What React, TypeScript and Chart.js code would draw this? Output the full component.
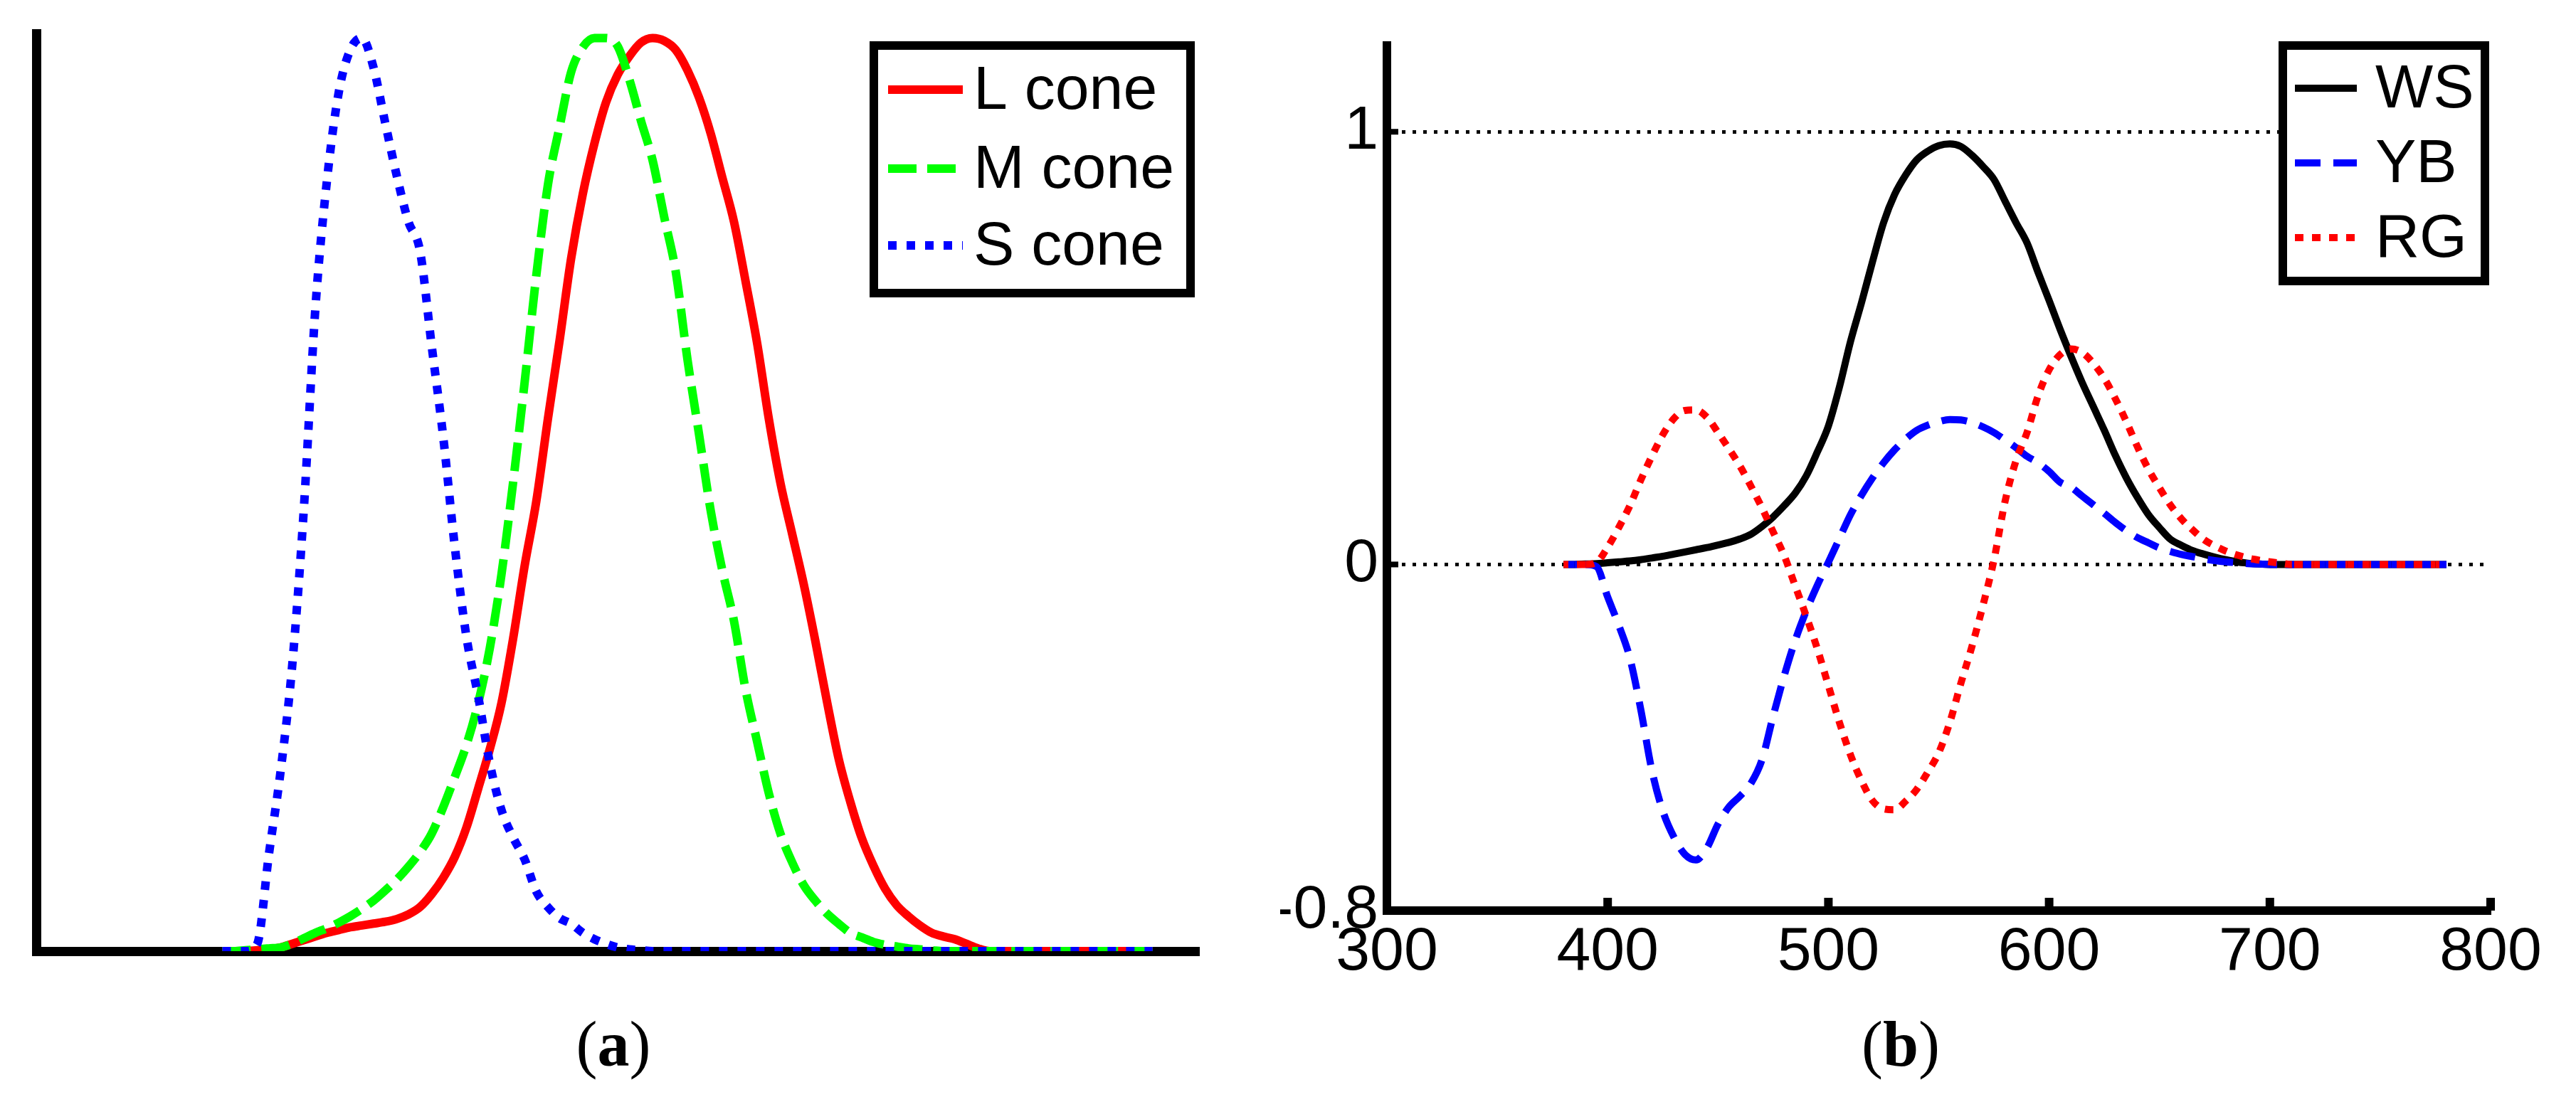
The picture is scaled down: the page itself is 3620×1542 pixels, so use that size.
import { useEffect, useRef } from "react";
import { Chart, registerables } from "chart.js";

Chart.register(...registerables);

// wavelength samples (nm) shared by both panels
const wavelengths = [
  380, 385, 390, 395, 400, 405, 410, 415, 420, 425, 430, 435, 440, 445, 450, 455, 460,
  465, 470, 475, 480, 485, 490, 495, 500, 505, 510, 515, 520, 525, 530, 535, 540, 545,
  550, 555, 560, 565, 570, 575, 580, 585, 590, 595, 600, 605, 610, 615, 620, 625, 630,
  635, 640, 645, 650, 655, 660, 665, 670, 675, 680, 685, 690, 695, 700, 705, 710, 715,
  720, 725, 730, 735, 740, 745, 750, 755, 760, 765, 770, 775, 780,
];

// (a) cone sensitivities
const coneLabels = ["L cone", "M cone", "S cone"];
const lCone = [
  0, 0, 0, 0.001, 0.002, 0.004, 0.008, 0.012, 0.016, 0.02, 0.023, 0.026, 0.028, 0.03,
  0.032, 0.035, 0.04, 0.048, 0.062, 0.08, 0.103, 0.135, 0.177, 0.22, 0.27, 0.34, 0.42,
  0.49, 0.58, 0.665, 0.755, 0.825, 0.88, 0.925, 0.955, 0.975, 0.99, 0.995, 0.992, 0.982,
  0.96, 0.93, 0.891, 0.843, 0.795, 0.73, 0.662, 0.58, 0.51, 0.455, 0.4, 0.338, 0.272,
  0.21, 0.163, 0.123, 0.093, 0.068, 0.05, 0.038, 0.028, 0.02, 0.016, 0.013, 0.008, 0.003,
  0, 0, 0, 0, 0, 0, 0, 0, 0, 0, 0, 0, 0, 0, 0,
];
const mCone = [
  0, 0, 0.001, 0.002, 0.003, 0.004, 0.008, 0.014, 0.02, 0.025, 0.031, 0.038, 0.046, 0.055,
  0.066, 0.078, 0.092, 0.108, 0.128, 0.157, 0.19, 0.225, 0.27, 0.33, 0.41, 0.51, 0.62,
  0.736, 0.835, 0.898, 0.958, 0.985, 0.995, 0.995, 0.986, 0.95, 0.905, 0.862, 0.8, 0.74,
  0.645, 0.563, 0.48, 0.415, 0.36, 0.285, 0.228, 0.172, 0.128, 0.097, 0.072, 0.055, 0.041,
  0.03, 0.02, 0.015, 0.01, 0.007, 0.005, 0.003, 0.002, 0.001, 0, 0, 0, 0, 0, 0, 0, 0, 0,
  0, 0, 0, 0, 0, 0, 0, 0, 0, 0,
];
const sCone = [
  0, 0, 0, 0.008, 0.105, 0.195, 0.31, 0.48, 0.7, 0.84, 0.935, 0.982, 0.995, 0.963, 0.903,
  0.845, 0.795, 0.763, 0.66, 0.56, 0.44, 0.342, 0.278, 0.205, 0.154, 0.124, 0.1, 0.065,
  0.048, 0.036, 0.03, 0.02, 0.013, 0.008, 0.004, 0.002, 0.001, 0, 0, 0, 0, 0, 0, 0, 0, 0,
  0, 0, 0, 0, 0, 0, 0, 0, 0, 0, 0, 0, 0, 0, 0, 0, 0, 0, 0, 0, 0, 0, 0, 0, 0, 0, 0, 0, 0,
  0, 0, 0, 0, 0, 0,
];

// (b) opponent channels
const opponentLabels = ["WS", "YB", "RG"];
const ws = [
  0, 0, 0.001, 0.002, 0.004, 0.006, 0.008, 0.011, 0.015, 0.019, 0.024, 0.029, 0.034, 0.039,
  0.045, 0.051, 0.059, 0.07, 0.088, 0.11, 0.136, 0.165, 0.205, 0.26, 0.32, 0.41, 0.515,
  0.605, 0.7, 0.79, 0.855, 0.9, 0.935, 0.955, 0.968, 0.972, 0.966, 0.946, 0.92, 0.89, 0.84,
  0.79, 0.743, 0.675, 0.61, 0.543, 0.48, 0.42, 0.365, 0.31, 0.252, 0.2, 0.155, 0.115, 0.085,
  0.058, 0.044, 0.032, 0.024, 0.017, 0.011, 0.006, 0.003, 0.001, 0, 0, 0, 0, 0, 0, 0, 0, 0,
  0, 0, 0, 0, 0, 0, 0, 0,
];
const yb = [
  0, 0, 0, -0.005, -0.075, -0.14, -0.215, -0.335, -0.475, -0.57, -0.63, -0.67, -0.683,
  -0.655, -0.6, -0.56, -0.535, -0.505, -0.45, -0.35, -0.257, -0.175, -0.107, -0.048, 0.005,
  0.06, 0.115, 0.16, 0.2, 0.235, 0.265, 0.29, 0.31, 0.322, 0.33, 0.335, 0.334, 0.328, 0.318,
  0.305, 0.288, 0.27, 0.25, 0.235, 0.215, 0.19, 0.178, 0.158, 0.138, 0.118, 0.097, 0.078,
  0.062, 0.05, 0.038, 0.03, 0.023, 0.018, 0.013, 0.009, 0.006, 0.004, 0.002, 0.001, 0, 0,
  0, 0, 0, 0, 0, 0, 0, 0, 0, 0, 0, 0, 0, 0, 0,
];
const rg = [
  0, 0, 0, 0.005, 0.04, 0.085, 0.135, 0.195, 0.25, 0.3, 0.337, 0.356, 0.357, 0.34, 0.305,
  0.267, 0.227, 0.18, 0.13, 0.075, 0.02, -0.05, -0.12, -0.195, -0.28, -0.365, -0.44, -0.5,
  -0.546, -0.565, -0.567, -0.547, -0.52, -0.48, -0.435, -0.365, -0.275, -0.19, -0.095,
  0.01, 0.145, 0.24, 0.305, 0.39, 0.45, 0.485, 0.498, 0.49, 0.465, 0.43, 0.383, 0.33,
  0.272, 0.22, 0.177, 0.137, 0.105, 0.08, 0.058, 0.043, 0.031, 0.022, 0.015, 0.01, 0.006,
  0.003, 0, 0, 0, 0, 0, 0, 0, 0, 0, 0, 0, 0, 0, 0, 0,
];
const yTickValues = [-0.8, 0, 1];
const yTickLabels = ["-0.8", "0", "1"];

const SANS = "'Liberation Sans', Arial, sans-serif";

const toPoints = (ys: number[]) => wavelengths.map((x, i) => ({ x, y: ys[i] }));

// where YB and RG both lie on zero, matlab shows them as alternating red/blue squares;
// lock the dash phase to the pixel position so the two patterns interleave
const DOT = 12;
const onZero = (c: any) => c.p0.parsed.y === 0 && c.p1.parsed.y === 0;
const zeroSegment = (shift: number) => ({
  borderDash: (c: any) => (onZero(c) ? [DOT, DOT] : undefined),
  borderDashOffset: (c: any) => (onZero(c) ? (c.p0.x + shift) % (2 * DOT) : undefined),
});

// legend box drawn inside the plot, like the MATLAB one
const boxLegend = {
  id: "boxLegend",
  afterDraw(chart: any, _args: any, opts: any) {
    const { ctx } = chart;
    const [x0, y0, x1, y1] = opts.box;
    ctx.save();
    ctx.fillStyle = "#fff";
    ctx.fillRect(x0, y0, x1 - x0, y1 - y0);
    ctx.lineWidth = 12;
    ctx.strokeStyle = "#000";
    ctx.strokeRect(x0, y0, x1 - x0, y1 - y0);
    chart.data.datasets.forEach((ds: any, i: number) => {
      const y = opts.rows[i];
      ctx.strokeStyle = ds.borderColor;
      ctx.lineWidth = ds.borderWidth;
      ctx.setLineDash(ds.borderDash || []);
      ctx.beginPath();
      ctx.moveTo(opts.sample[0], y);
      ctx.lineTo(opts.sample[1], y);
      ctx.stroke();
      ctx.setLineDash([]);
      ctx.fillStyle = "#000";
      ctx.font = `86px ${SANS}`;
      ctx.textBaseline = "middle";
      ctx.textAlign = "left";
      ctx.fillText(ds.label, opts.textX, y + 3);
    });
    ctx.restore();
  },
};

// short ticks pointing into the plot
const innerTicks = {
  id: "innerTicks",
  afterDatasetsDraw(chart: any) {
    const { ctx, chartArea } = chart;
    const sx = chart.scales.x;
    const sy = chart.scales.y;
    ctx.save();
    ctx.fillStyle = "#000";
    sx.ticks.forEach((t: any) => {
      const px = sx.getPixelForValue(t.value);
      ctx.fillRect(px - 6, chartArea.bottom - 18, 12, 18);
    });
    sy.ticks.forEach((t: any) => {
      const py = sy.getPixelForValue(t.value);
      ctx.fillRect(chartArea.left, py - 4, 16, 8);
    });
    ctx.restore();
  },
};

function useChart(ref: React.RefObject<HTMLCanvasElement | null>, make: () => any) {
  useEffect(() => {
    if (!ref.current) return;
    const chart = new Chart(ref.current, make());
    return () => chart.destroy();
  }, []);
}

// chart.js paints lower "order" on top; matlab paints later series on top
const ConeChart = () => {
  const ref = useRef<HTMLCanvasElement>(null);
  useChart(ref, () => ({
    type: "line",
    data: {
      datasets: [
        { label: coneLabels[0], data: toPoints(lCone), order: 2, borderColor: "#ff0000", borderWidth: 12, borderDash: [], clip: 0 },
        { label: coneLabels[1], data: toPoints(mCone), order: 1, borderColor: "#00ff00", borderWidth: 12, borderDash: [40, 15], clip: 0 },
        { label: coneLabels[2], data: toPoints(sCone), order: 0, borderColor: "#0000ff", borderWidth: 12, borderDash: [12, 14], clip: 0 },
      ],
    },
    options: {
      animation: false,
      responsive: true,
      maintainAspectRatio: false,
      layout: { padding: { left: 51, top: 47, right: 75, bottom: 205 } },
      elements: {
        point: { radius: 0 },
        line: { cubicInterpolationMode: "monotone", borderJoinStyle: "round" },
      },
      plugins: {
        legend: { display: false },
        tooltip: { enabled: false },
        boxLegend: { box: [1228, 64, 1673, 412], rows: [126, 237, 345], sample: [1248, 1353], textX: 1368 },
      },
      scales: {
        x: {
          type: "linear",
          min: 300,
          max: 800,
          ticks: { display: false },
          grid: { display: false, drawTicks: false },
          border: { display: true, color: "#000", width: 13 },
          afterFit: (s: any) => { s.height = 0; },
        },
        y: {
          min: 0,
          max: 1,
          ticks: { display: false },
          grid: { display: false, drawTicks: false },
          border: { display: true, color: "#000", width: 13 },
          afterFit: (s: any) => { s.width = 0; },
        },
      },
    },
    plugins: [boxLegend],
  }));
  return <canvas ref={ref} />;
};

const OpponentChart = () => {
  const ref = useRef<HTMLCanvasElement>(null);
  useChart(ref, () => ({
    type: "line",
    data: {
      datasets: [
        { label: opponentLabels[0], data: toPoints(ws), order: 2, borderColor: "#000000", borderWidth: 10, borderDash: [] },
        {
          label: opponentLabels[1], data: toPoints(yb), order: 1, borderColor: "#0000ff", borderWidth: 10,
          borderDash: [36, 18], segment: zeroSegment(DOT),
        },
        {
          label: opponentLabels[2], data: toPoints(rg), order: 0, borderColor: "#ff0000", borderWidth: 10,
          borderDash: [DOT, DOT], segment: zeroSegment(0),
        },
      ],
    },
    options: {
      animation: false,
      responsive: true,
      maintainAspectRatio: false,
      layout: { padding: { left: 39, top: 47, right: 120, bottom: 162 } },
      elements: {
        point: { radius: 0 },
        line: { cubicInterpolationMode: "monotone", borderJoinStyle: "round" },
      },
      plugins: {
        legend: { display: false },
        tooltip: { enabled: false },
        boxLegend: { box: [1448, 64, 1732, 395], rows: [124, 229, 334], sample: [1465, 1552], textX: 1578 },
      },
      scales: {
        x: {
          type: "linear",
          min: 300,
          max: 800,
          ticks: {
            stepSize: 100,
            autoSkip: false,
            maxRotation: 0,
            padding: 8,
            color: "#000",
            font: { family: SANS, size: 86 },
          },
          grid: { display: false, drawTicks: false },
          border: { display: true, color: "#000", width: 12 },
          afterFit: (s: any) => { s.height = 100; },
        },
        y: {
          min: -0.8,
          max: 1.2,
          afterBuildTicks: (s: any) => { s.ticks = yTickValues.map((value) => ({ value })); },
          ticks: {
            padding: 12,
            color: "#000",
            font: { family: SANS, size: 86 },
            callback: (v: number) => yTickLabels[yTickValues.indexOf(v)] ?? "",
          },
          grid: {
            display: true,
            drawTicks: false,
            lineWidth: 5,
            color: (c: any) => (c.tick && (c.tick.value === 0 || c.tick.value === 1) ? "#000" : "rgba(0,0,0,0)"),
          },
          border: { display: true, color: "#000", width: 12, dash: [5, 10] },
          afterFit: (s: any) => { s.width = 150; },
        },
      },
    },
    plugins: [boxLegend, innerTicks],
  }));
  return <canvas ref={ref} />;
};

const panelLabel: React.CSSProperties = {
  position: "absolute",
  top: 1418,
  fontFamily: "'Liberation Serif', 'Times New Roman', serif",
  fontSize: 90,
  lineHeight: "100px",
  color: "#000",
  transform: "translateX(-50%)",
  whiteSpace: "nowrap",
};

export default function App() {
  return (
    <div style={{ position: "absolute", left: 0, top: 0, width: 3620, height: 1542, background: "#fff" }}>
      <div style={{ position: "absolute", left: 0, top: 0, width: 1760, height: 1542 }}>
        <ConeChart />
      </div>
      <div style={{ position: "absolute", left: 1760, top: 0, width: 1860, height: 1542 }}>
        <OpponentChart />
      </div>
      <div style={{ ...panelLabel, left: 862 }}>
        (<b>a</b>)
      </div>
      <div style={{ ...panelLabel, left: 2671 }}>
        (<b>b</b>)
      </div>
    </div>
  );
}
